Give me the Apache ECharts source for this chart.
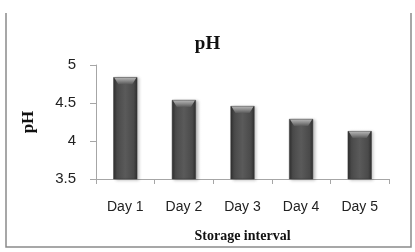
<!DOCTYPE html>
<html><head><meta charset="utf-8">
<script src="https://cdn.jsdelivr.net/npm/echarts@6/dist/echarts.min.js"></script>
<style>html,body{margin:0;padding:0;background:#fff}#c{width:415px;height:252px}</style>
</head><body><div id="c"></div>
<script>
const categories = ['Day 1', 'Day 2', 'Day 3', 'Day 4', 'Day 5'];
const phValues = [4.84, 4.54, 4.46, 4.29, 4.13];
const yTicks = [3.5, 4, 4.5, 5];

const chart = echarts.init(document.getElementById('c'), null, {renderer: 'canvas'});
chart.setOption({
  animation: false,
  backgroundColor: '#fff',
  title: {
    text: 'pH', left: 'center', top: 30,
    textStyle: {fontFamily: 'Liberation Serif', fontWeight: 'bold', fontSize: 19, color: '#111'}
  },
  grid: {left: 96, right: 26, top: 65, bottom: 73, containLabel: false},
  xAxis: {
    type: 'category', data: categories,
    name: 'Storage interval', nameLocation: 'middle', nameGap: 50,
    nameTextStyle: {fontFamily: 'Liberation Serif', fontWeight: 'bold', fontSize: 14, color: '#111'},
    axisLine: {lineStyle: {color: '#a6a6a6', width: 1}},
    axisTick: {show: true, alignWithLabel: false, length: 5, lineStyle: {color: '#a6a6a6'}},
    axisLabel: {fontFamily: 'Liberation Sans', fontSize: 14, color: '#222', margin: 21}
  },
  yAxis: {
    type: 'value', min: yTicks[0], max: yTicks[yTicks.length - 1], interval: 0.5,
    name: 'pH', nameLocation: 'middle', nameGap: 59, nameRotate: 90,
    nameTextStyle: {fontFamily: 'Liberation Serif', fontWeight: 'bold', fontSize: 17, color: '#111'},
    axisLine: {show: true, lineStyle: {color: '#a6a6a6', width: 1}},
    axisTick: {show: true, length: 6, lineStyle: {color: '#a6a6a6'}},
    splitLine: {show: false},
    axisLabel: {fontFamily: 'Liberation Sans', fontSize: 15, color: '#222', margin: 20}
  },
  series: [{
    type: 'bar', data: phValues, barWidth: '41%',
    itemStyle: {
      color: new echarts.graphic.LinearGradient(0, 0, 1, 0, [
        {offset: 0, color: '#2e2e2e'},
        {offset: 0.15, color: '#4a4a4a'},
        {offset: 0.5, color: '#5a5a5a'},
        {offset: 0.85, color: '#4a4a4a'},
        {offset: 1, color: '#2e2e2e'}
      ]),
      borderColor: '#3a3a3a', borderWidth: 0.5,
      shadowColor: 'rgba(0,0,0,0.25)', shadowBlur: 3, shadowOffsetX: 2, shadowOffsetY: 1
    }
  }, {
    type: 'custom', data: phValues.map((v, i) => [i, v]), silent: true, z: 5,
    renderItem: function (params, api) {
      const p = api.coord([api.value(0), api.value(1)]);
      const w = api.size([1, 0])[0] * 0.41;
      const x0 = p[0] - w / 2, x1 = p[0] + w / 2, y = p[1];
      return {
        type: 'polygon',
        shape: {points: [[x0 + 1, y + 0.5], [x1 - 1, y + 0.5], [x1 - 5, y + 7], [x0 + 5, y + 7]]},
        style: {
          fill: new echarts.graphic.LinearGradient(0, 0, 0, 1, [
            {offset: 0, color: '#b5b5b5'},
            {offset: 0.5, color: '#8a8a8a'},
            {offset: 1, color: '#5a5a5a'}
          ])
        }
      };
    },
    encode: {x: 0, y: 1}
  }],
  graphic: [
    {type: 'polyline', shape: {points: [[6, 13], [6, 247], [411, 247], [411, 13]]},
     style: {stroke: '#8a8a8a', lineWidth: 1.5, fill: null}, silent: true}
  ]
});
</script></body></html>
